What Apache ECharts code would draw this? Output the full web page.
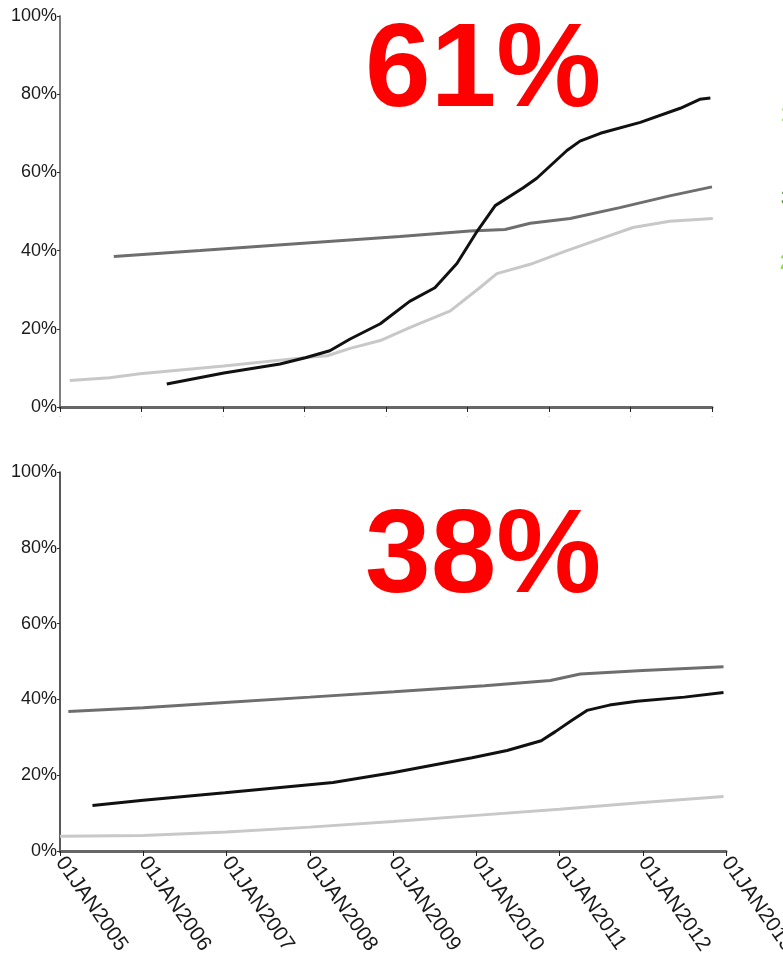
<!DOCTYPE html>
<html>
<head>
<meta charset="utf-8">
<script src="https://cdn.jsdelivr.net/npm/echarts@6/dist/echarts.min.js"></script>
<style>
  html, body { margin: 0; padding: 0; background: #fff; }
  #app { width: 783px; height: 965px; }
</style>
</head>
<body>
<div id="app"></div>
<script>
// tick labels
var yearTicks = [2005, 2006, 2007, 2008, 2009, 2010, 2011, 2012, 2013];
var xTickLabels = ['01JAN2005', '01JAN2006', '01JAN2007', '01JAN2008', '01JAN2009',
                   '01JAN2010', '01JAN2011', '01JAN2012', '01JAN2013'];
var bigLabels = ['61%', '38%'];

// top panel  [year, percent]
var topDark = [[2005.66, 38.5], [2006.72, 40], [2007.94, 41.8], [2009.17, 43.6], [2010.03, 45],
               [2010.46, 45.4], [2010.77, 47], [2011.26, 48.2], [2011.87, 51], [2012.48, 54], [2013.0, 56.3]];
var topBlack = [[2006.31, 5.9], [2007.01, 8.7], [2007.7, 11], [2008.01, 12.6], [2008.31, 14.4],
                [2008.56, 17.4], [2008.93, 21.3], [2009.29, 27], [2009.6, 30.5], [2009.87, 36.7],
                [2010.12, 45], [2010.34, 51.5], [2010.68, 56], [2010.85, 58.5], [2011.22, 65.6],
                [2011.38, 68], [2011.63, 70], [2012.12, 72.8], [2012.61, 76.4], [2012.85, 78.7], [2012.98, 79]];
var topLight = [[2005.12, 6.8], [2005.61, 7.5], [2005.98, 8.5], [2007.01, 10.5], [2007.94, 12.5],
                [2008.28, 13.1], [2008.56, 15], [2008.93, 17], [2009.29, 20.3], [2009.79, 24.6],
                [2010.15, 30.5], [2010.36, 34.1], [2010.77, 36.5], [2011.22, 40], [2011.63, 43],
                [2012.03, 45.9], [2012.48, 47.5], [2013.01, 48.2]];

// bottom panel
var botDark = [[2005.1, 36.8], [2006, 37.8], [2006.98, 39.2], [2008, 40.6], [2009.01, 42],
               [2010.1, 43.6], [2010.89, 45], [2011.25, 46.7], [2012, 47.6], [2012.97, 48.6]];
var botBlack = [[2005.39, 12], [2006, 13.4], [2006.98, 15.4], [2008.28, 18.1], [2009.01, 20.7],
                [2009.95, 24.6], [2010.37, 26.5], [2010.78, 29.1], [2010.95, 31.5], [2011.15, 34.5],
                [2011.33, 37.1], [2011.6, 38.5], [2011.93, 39.5], [2012.5, 40.6], [2012.97, 41.8]];
var botLight = [[2005, 3.9], [2006, 4.1], [2007, 5], [2008, 6.3], [2009, 7.8],
                [2010, 9.4], [2011, 11], [2012, 12.8], [2012.97, 14.4]];

var DARK = '#6e6e6e', BLACK = '#111111', LIGHT = '#c8c8c8';
var labelFont = "'Liberation Sans', Arial, sans-serif";

function yAxis(idx, lineColor, lineW) {
    return {
        type: 'value', gridIndex: idx, min: 0, max: 100, interval: 20,
        splitLine: { show: false },
        axisLine: { show: true, lineStyle: { color: lineColor, width: lineW } },
        axisTick: { show: true, length: 3, lineStyle: { color: '#333' } },
        axisLabel: { formatter: '{value}%', margin: 3, color: '#1a1a1a', fontSize: 18, fontFamily: labelFont }
    };
}

function line(name, data, color, xi) {
    return {
        name: name, type: 'line', xAxisIndex: xi, yAxisIndex: xi, data: data,
        showSymbol: false, silent: true, animation: false,
        lineStyle: { color: color, width: 3 }
    };
}

var myChart = echarts.init(document.getElementById('app'));

var option = {
    animation: false,
    grid: [
        { left: 60, top: 16, width: 652, height: 391, outerBoundsMode: 'none' },
        { left: 60, top: 472, width: 666, height: 379, outerBoundsMode: 'none' }
    ],
    xAxis: [
        {
            type: 'value', gridIndex: 0, min: yearTicks[0], max: yearTicks[yearTicks.length - 1], interval: 1,
            splitLine: { show: false },
            axisLine: { lineStyle: { color: '#666', width: 3 } },
            axisTick: { length: 5, lineStyle: { color: '#222', width: 1 } },
            axisLabel: { formatter: function () { return '·'; }, color: '#bbb', fontSize: 8, margin: 6 }
        },
        {
            type: 'value', gridIndex: 1, min: yearTicks[0], max: yearTicks[yearTicks.length - 1], interval: 1,
            splitLine: { show: false },
            axisLine: { lineStyle: { color: '#666', width: 3 } },
            axisTick: { length: 5, lineStyle: { color: '#222', width: 1 } },
            axisLabel: {
                formatter: function (v) { return xTickLabels[yearTicks.indexOf(v)] || ''; },
                rotate: -55, margin: 8, color: '#1a1a1a', fontSize: 21, fontFamily: labelFont,
                showMaxLabel: true, hideOverlap: false
            }
        }
    ],
    yAxis: [yAxis(0, '#808080', 2), yAxis(1, '#222', 1.5)],
    series: [
        line('top dark', topDark, DARK, 0),
        line('top light', topLight, LIGHT, 0),
        line('top black', topBlack, BLACK, 0),
        line('bottom dark', botDark, DARK, 1),
        line('bottom light', botLight, LIGHT, 1),
        line('bottom black', botBlack, BLACK, 1)
    ],
    graphic: [
        {
            type: 'text', left: 365, top: 14,
            style: { text: bigLabels[0], fill: '#ff0000', font: "bold 118px 'Liberation Sans', Arial, sans-serif" }
        },
        {
            type: 'text', left: 365, top: 500,
            style: { text: bigLabels[1], fill: '#ff0000', font: "bold 118px 'Liberation Sans', Arial, sans-serif" }
        },
        // cut-off green text at the right edge
        { type: 'text', left: 781, top: 104, style: { text: '1', fill: '#78c030', font: "bold 22px 'Liberation Sans', sans-serif" } },
        { type: 'text', left: 781, top: 188, style: { text: '3', fill: '#4a8a20', font: "bold 22px 'Liberation Sans', sans-serif" } },
        { type: 'text', left: 780, top: 252, style: { text: '2', fill: '#90e040', font: "bold 22px 'Liberation Sans', sans-serif" } }
    ]
};

myChart.setOption(option);
</script>
</body>
</html>
